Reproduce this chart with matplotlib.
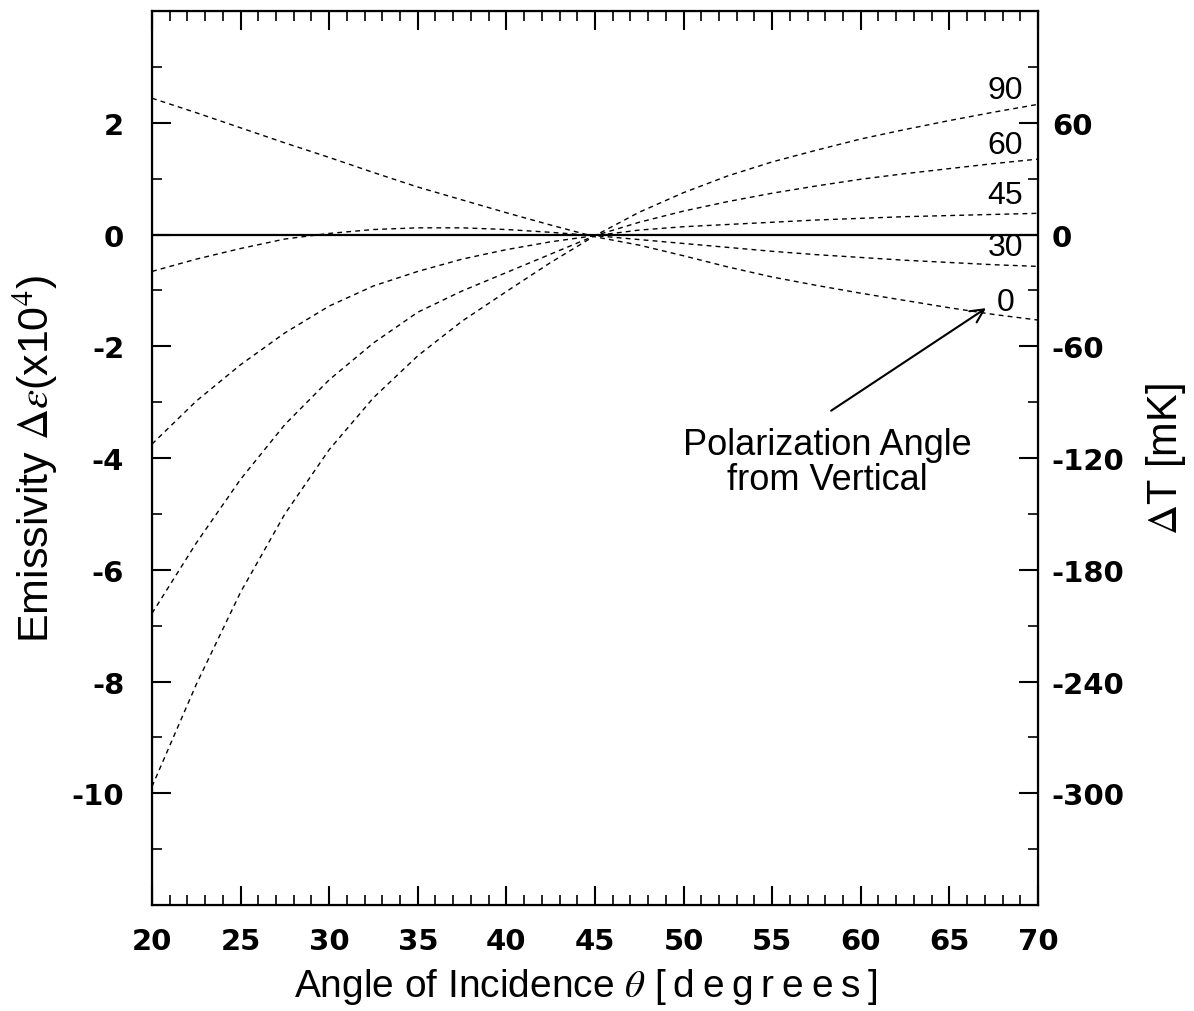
import matplotlib
matplotlib.use("Agg")
import matplotlib.pyplot as plt
from matplotlib.ticker import MultipleLocator, FixedLocator

plt.rcParams['font.family'] = ['Liberation Sans', 'DejaVu Sans']
plt.rcParams['mathtext.fontset'] = 'stix'
plt.rcParams['axes.unicode_minus'] = False

# ---- data ----
theta = [20, 22.5, 25, 27.5, 30, 32.5, 35, 37.5, 40, 42.5, 45,
         47.5, 50, 52.5, 55, 57.5, 60, 62.5, 65, 67.5, 70]

pol_0 = [2.44, 2.18, 1.91, 1.64, 1.38, 1.11, 0.85, 0.62, 0.39, 0.17, -0.04,
         -0.19, -0.38, -0.58, -0.76, -0.91, -1.05, -1.18, -1.31, -1.43, -1.53]
pol_30 = [-0.66, -0.44, -0.25, -0.08, 0.02, 0.09, 0.12, 0.12, 0.09, 0.04, -0.02,
          -0.09, -0.16, -0.23, -0.30, -0.36, -0.41, -0.46, -0.50, -0.54, -0.57]
pol_45 = [-3.75, -2.98, -2.33, -1.76, -1.28, -0.92, -0.66, -0.44, -0.27, -0.13, -0.02,
          0.08, 0.14, 0.18, 0.22, 0.26, 0.29, 0.32, 0.34, 0.36, 0.38]
pol_60 = [-6.78, -5.52, -4.38, -3.40, -2.60, -1.94, -1.39, -1.01, -0.68, -0.35, -0.02,
          0.22, 0.42, 0.59, 0.74, 0.87, 0.99, 1.09, 1.18, 1.27, 1.35]
pol_90 = [-9.88, -8.05, -6.40, -5.00, -3.85, -2.92, -2.17, -1.55, -1.02, -0.50, -0.02,
          0.40, 0.75, 1.05, 1.30, 1.51, 1.71, 1.88, 2.04, 2.19, 2.33]

series = [pol_0, pol_30, pol_45, pol_60, pol_90]
curve_labels = ['0', '30', '45', '60', '90']

zero_x = [20, 70]
zero_y = [0, 0]

left_ticks = [-10, -8, -6, -4, -2, 0, 2]
right_ticks = [-300, -240, -180, -120, -60, 0, 60]
x_ticks = [20, 25, 30, 35, 40, 45, 50, 55, 60, 65, 70]

# ---- figure ----
fig = plt.figure(figsize=(11.94, 10.12), dpi=100)
ax = fig.add_axes([0.1273, 0.1047, 0.742, 0.8834])

for ys in series:
    ax.plot(theta, ys, color='black', lw=1.0, linestyle=(0, (3.5, 3.0)))
ax.plot(zero_x, zero_y, color='black', lw=1.6)

ax.set_xlim(20, 70)
ax.set_ylim(-12, 4)
ax.xaxis.set_major_locator(FixedLocator(x_ticks))
ax.xaxis.set_minor_locator(MultipleLocator(1))
ax.yaxis.set_major_locator(FixedLocator(left_ticks))
ax.yaxis.set_minor_locator(MultipleLocator(1))
ax.tick_params(axis='both', which='both', direction='in', top=True, right=False)
ax.tick_params(axis='both', which='major', length=14, width=1.5)
ax.tick_params(axis='both', which='minor', length=7, width=1.2)
ax.tick_params(axis='x', which='major', pad=16, labelsize=21)
ax.tick_params(axis='y', which='major', pad=20, labelsize=21)
for lab in ax.get_xticklabels() + ax.get_yticklabels():
    lab.set_fontweight('bold')
    lab.set_fontfamily('DejaVu Sans')
for sp in ax.spines.values():
    sp.set_linewidth(1.6)

deg = '\u2009'.join('[degrees]')
ax.set_xlabel('Angle of Incidence $\\theta$ ' + deg, fontsize=28)
ax.xaxis.label.set_verticalalignment('baseline')
ax.xaxis.set_label_coords(0.49, -0.1018)
ax.set_ylabel(r'Emissivity $\Delta\varepsilon$(x10$^{4}$)', fontsize=31, labelpad=8)

ax2 = ax.twinx()
ax2.set_ylim(-360, 120)
ax2.yaxis.set_major_locator(FixedLocator(right_ticks))
ax2.yaxis.set_minor_locator(MultipleLocator(30))
ax2.tick_params(axis='y', which='both', direction='in')
ax2.tick_params(axis='y', which='major', length=14, width=1.5, pad=10, labelsize=21)
ax2.tick_params(axis='y', which='minor', length=7, width=1.2)
for lab in ax2.get_yticklabels():
    lab.set_fontweight('bold')
    lab.set_fontfamily('DejaVu Sans')
ax2.set_ylabel(r'$\Delta$T [mK]', fontsize=30, rotation=90, labelpad=14)

# curve labels
label_pos = {'90': (69.15, 2.58), '60': (69.15, 1.60), '45': (69.15, 0.71),
             '30': (69.15, -0.22), '0': (68.7, -1.20)}
for t in curve_labels:
    x, y = label_pos[t]
    ax.text(x, y, t, ha='right', va='center', fontsize=23)

ax.annotate('', xy=(67.2, -1.29), xytext=(58.2, -3.18),
            arrowprops=dict(arrowstyle='->', color='black', lw=1.5,
                            mutation_scale=24))
ax.text(58.1, -4.07, 'Polarization Angle\nfrom Vertical', ha='center',
        va='center', fontsize=26, linespacing=1.0)

fig.savefig('out.png', dpi=100)
